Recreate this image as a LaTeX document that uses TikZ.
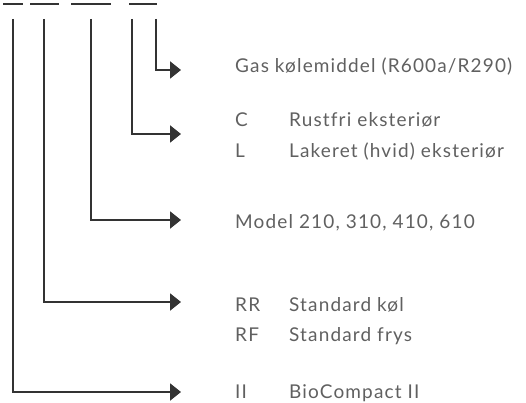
\documentclass[tikz,border=0pt]{standalone}
\usepackage{fontspec}
\setmainfont{Lato}[LetterSpace=6,Ligatures=NoCommon]
\usetikzlibrary{arrows.meta}
\definecolor{linegray}{HTML}{333333}
\definecolor{textgray}{HTML}{606060}
\tikzset{
  codebar/.style={draw=linegray,line width=2pt},
  pipe/.style={draw=linegray,line width=2pt,-{Triangle[length=11pt,width=17pt]}},
  code/.style={anchor=west,inner sep=0pt,text=textgray,
    font=\fontsize{19}{22}\selectfont,text height=13.6pt,text depth=0pt}
}

\begin{document}
\begin{tikzpicture}[x=1pt,y=-1pt]
  \useasboundingbox (0,0) rectangle (526,403);
  % the code positions
  \foreach \a/\b in {3/23,30/59,71/111,129/157}
    \draw[codebar] (\a,4) -- (\b,4);
  % where each line leaves the code
  \coordinate (s1) at (13,19);
  \coordinate (s2) at (44,19);
  \coordinate (s3) at (91,19);
  \coordinate (s4) at (132,19);
  \coordinate (s5) at (156,19);
  % arrow tips
  \coordinate (t1) at (181,392);
  \coordinate (t2) at (181,302);
  \coordinate (t3) at (181,220);
  \coordinate (t4) at (181,134);
  \coordinate (t5) at (181,70);
  % texts
  \node[code] (gas) at (235,66) {Gas kølemiddel (R600a/R290)};
  \node[code] (c) at (235,120) {C};
  \node[code] (cdesc) at (289,120) {Rustfri eksteriør};
  \node[code] (l) at (235,151) {L};
  \node[code] (ldesc) at (289,151) {Lakeret (hvid) eksteriør};
  \node[code] (model) at (235,222) {Model 210, 310, 410, 610};
  \node[code] (rr) at (235,305) {RR};
  \node[code] (rrdesc) at (289,305) {Standard køl};
  \node[code] (rf) at (235,335) {RF};
  \node[code] (rfdesc) at (289,335) {Standard frys};
  \node[code] (ii) at (235,392) {II};
  \node[code] (iidesc) at (289,392) {BioCompact II};
  % lines
  \foreach \i in {1,...,5}
    \draw[pipe] (s\i) |- (t\i);
\end{tikzpicture}
\end{document}
